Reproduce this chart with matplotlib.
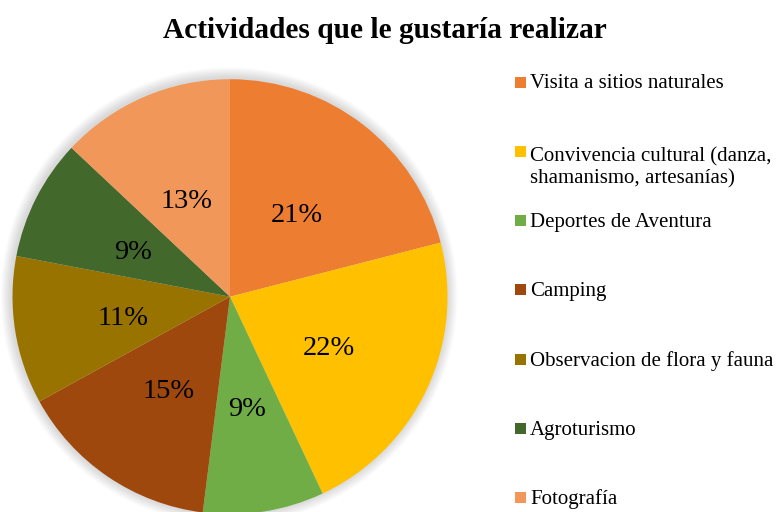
import matplotlib.pyplot as plt
from matplotlib.patches import Circle, Rectangle
from matplotlib.transforms import offset_copy

# datos
actividades = ["Visita a sitios naturales",
               "Convivencia cultural (danza,\nshamanismo, artesanías)",
               "Deportes de Aventura",
               "Camping",
               "Observacion de flora y fauna",
               "Agroturismo",
               "Fotografía"]
porcentajes = [21, 22, 9, 15, 11, 9, 13]
colores = ["#ED7D31", "#FFC000", "#70AD47", "#9E480E", "#997300", "#43682B", "#F1975A"]

plt.rcParams['font.family'] = ['Liberation Serif', 'DejaVu Serif']

W, H = 778, 512
fig = plt.figure(figsize=(W / 100, H / 100), dpi=100)

# pie axes: centro (230, 296.7) px, radio 217.5 px
cx, cy, r = 230, 296.7, 217.5
ax = fig.add_axes([(cx - r) / W, (H - cy - r) / H, 2 * r / W, 2 * r / H])
ax.axis('off')

# sombra suave
for i in range(10):
    ax.add_patch(Circle((-0.004, 0.004), 1 + 0.005 * (i + 1), color='#808080',
                        alpha=0.03, lw=0, zorder=0, clip_on=False))

wedges, texts, autotexts = ax.pie(porcentajes, colors=colores, startangle=90,
                                  counterclock=False, radius=1,
                                  autopct='%1.0f%%', pctdistance=0.5,
                                  wedgeprops={'linewidth': 0},
                                  textprops={'fontsize': 20.5, 'color': 'black'})
for w in wedges:
    w.set_zorder(2)
for t in autotexts:
    t.set_zorder(3)
    t.set_transform(offset_copy(t.get_transform(), fig, y=-5, units='dots'))
ax.set_xlim(-1, 1)
ax.set_ylim(-1, 1)
ax.set_aspect('equal')

fig.text(384.5 / W, 1 - 31 / H, "Actividades que le gustaría realizar",
         ha='center', va='center', fontsize=21.2, fontweight='bold')

# leyenda
y0, paso, linea = 82, 69.3, 26
for i, (lab, col) in enumerate(zip(actividades, colores)):
    ym = y0 + i * paso
    extra = lab.count("\n") * linea
    fig.patches.append(Rectangle((515 / W, 1 - (ym + 5.5) / H), 11 / W, 11 / H,
                                 transform=fig.transFigure, color=col, lw=0))
    fig.text(530 / W, 1 - (ym + 6.5 + extra) / H, lab, ha='left', va='baseline',
             fontsize=15, linespacing=1.25)

fig.savefig("out.png", dpi=100)
